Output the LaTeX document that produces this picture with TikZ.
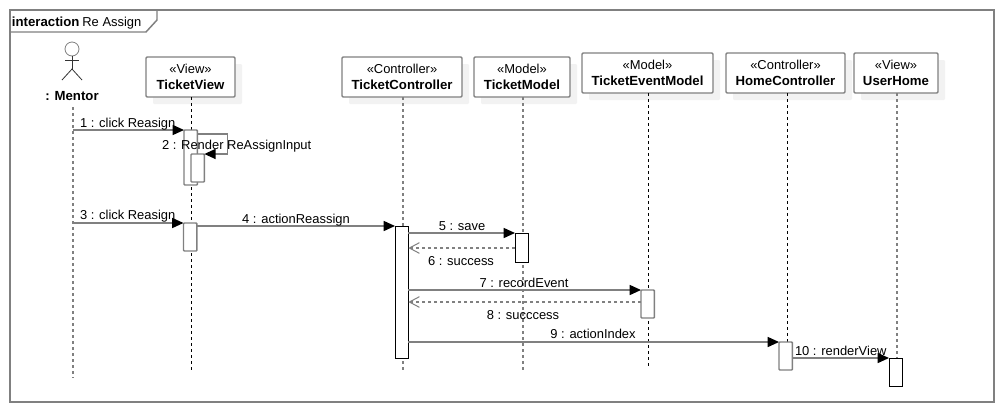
\documentclass[tikz,border=0pt]{standalone}
\usepackage{fontspec}
\setmainfont{Liberation Sans}
\usetikzlibrary{arrows.meta,shadows}
\definecolor{umlgray}{HTML}{808080}
\definecolor{shadowgray}{HTML}{F2F2F2}
\newcommand{\umlbold}[1]{{\fontsize{9.9}{11.5}\selectfont\bfseries #1}}
\tikzset{
  frameline/.style={draw=umlgray,line width=1.1pt},
  objbox/.style={draw=umlgray,fill=white,line width=1.1pt,rounded corners=0.8pt,align=center,inner sep=0pt,outer sep=0pt,minimum height=30pt,font=\fontsize{9.7}{11.5}\selectfont,general shadow={fill=shadowgray,shadow xshift=5.25pt,shadow yshift=-5.25pt}},
  lifeG/.style={draw=umlgray,line width=1.1pt,dash pattern=on 2.25pt off 2.25pt},
  lifeK/.style={draw=black,line width=0.75pt,dash pattern=on 2.25pt off 2.25pt},
  actG/.style={draw=umlgray,fill=white,line width=1.1pt,rounded corners=0.6pt,inner sep=0pt,outer sep=0pt,anchor=north west,minimum width=10pt},
  actK/.style={draw=black,fill=white,line width=0.75pt,inner sep=0pt,outer sep=0pt,anchor=north west,minimum width=10pt},
  msg/.style={draw=umlgray,line width=1.1pt,-{Triangle[length=8.5pt,width=7.5pt,color=black]}},
  ret/.style={draw=umlgray,line width=1.1pt,dash pattern=on 2.25pt off 2.25pt,-{Straight Barb[length=7.5pt,width=8pt,line width=.75pt,color=umlgray]}},
  lbl/.style={font=\fontsize{9.7}{11}\selectfont,inner sep=0pt,outer sep=0pt,text height=7pt,text depth=0pt},
  actorline/.style={draw=black!80,line width=0.6pt}
}
\begin{document}
\begin{tikzpicture}[x=0.75pt,y=-0.75pt]
\useasboundingbox[fill=white] (0,0) rectangle (1004,412);
% frame
\coordinate (frameTL) at (10,10);
\coordinate (frameBR) at (994,402);
\draw[frameline] (frameTL) rectangle (frameBR);
\coordinate (tabA) at (10,32);
\coordinate (tabB) at (146,32);
\coordinate (tabC) at (157,20);
\coordinate (tabD) at (157,10);
\draw[frameline] (tabA) -- (tabB) -- (tabC) -- (tabD);
\node[lbl,anchor=west] (frameLabel) at (12,21.5) {\umlbold{interaction}\hspace{2.2pt}Re Assign};
% actor
\node[draw=umlgray,fill=white,circle,line width=0.6pt,minimum size=10.5pt,inner sep=0pt,outer sep=0pt] (mentorHead) at (72,49) {};
\coordinate (mentorHip) at (72,69);
\coordinate (mentorArmL) at (65,60.5);
\coordinate (mentorArmR) at (79,60.5);
\coordinate (mentorLegL) at (62,80);
\coordinate (mentorLegR) at (82,80);
\draw[actorline] (mentorHead) -- (mentorHip);
\draw[actorline] (mentorArmL) -- (mentorArmR);
\draw[actorline] (mentorLegL) -- (mentorHip) -- (mentorLegR);
\node[lbl] (mentorLabel) at (72,95.5) {\umlbold{: Mentor}};
% objects
\node[objbox,minimum width=66.75pt] (TV) at (190.5,77) {«View»\\\umlbold{TicketView}};
\node[objbox,minimum width=90pt] (TC) at (402,77) {«Controller»\\\umlbold{TicketController}};
\node[objbox,minimum width=72pt] (TM) at (522,77) {«Model»\\\umlbold{TicketModel}};
\node[objbox,minimum width=98.25pt] (TE) at (647.5,73) {«Model»\\\umlbold{TicketEventModel}};
\node[objbox,minimum width=89.25pt] (HC) at (785.5,73) {«Controller»\\\umlbold{HomeController}};
\node[objbox,minimum width=63pt] (UH) at (896,73) {«View»\\\umlbold{UserHome}};
% lifeline ends
\coordinate (mentorTop) at (73,107);
\coordinate (mentorEnd) at (73,378);
\coordinate (tvEnd) at (191.5,370);
\coordinate (tcEnd) at (403,371);
\coordinate (tmEnd) at (523,372);
\coordinate (teEnd) at (648.5,367);
\coordinate (hcEnd) at (787,342);
\coordinate (uhEnd) at (897,358);
\draw[lifeG] (mentorTop) -- (mentorEnd);
\draw[lifeK] (tvEnd |- TV.south) -- (tvEnd);
\draw[lifeG] (tcEnd |- TC.south) -- (tcEnd);
\draw[lifeG] (tmEnd |- TM.south) -- (tmEnd);
\draw[lifeK] (teEnd |- TE.south) -- (teEnd);
\draw[lifeK] (hcEnd |- HC.south) -- (hcEnd);
\draw[lifeG] (uhEnd |- UH.south) -- (uhEnd);
% activations
\node[actG,minimum height=41.25pt] (a1) at (184,130) {};
\node[actG,minimum height=21pt] (a2) at (191,154) {};
\node[actG,minimum height=21pt] (a3) at (183.5,223) {};
\node[actK,minimum height=99pt] (a4) at (395,226) {};
\node[actK,minimum height=21.75pt] (a5) at (515,233) {};
\node[actG,minimum height=21pt] (a6) at (641,290) {};
\node[actG,minimum height=21pt] (a7) at (779,342) {};
\node[actK,minimum height=21pt] (a8) at (889,358) {};
% messages
\coordinate (r6) at (515,248);
\coordinate (r8) at (641,302);
\draw[msg] (mentorEnd |- a1.north west) -- (a1.north west);
\draw[msg] ([yshift=-3pt]a1.north east) -- ++(30,0) |- (a2.north east);
\draw[msg] (mentorEnd |- a3.north west) -- (a3.north west);
\draw[msg] (a3.east |- a4.north west) -- (a4.north west);
\draw[msg] (a4.east |- a5.north west) -- (a5.north west);
\draw[ret] (a5.west |- r6) -- (a4.east |- r6);
\draw[msg] (a4.east |- a6.north west) -- (a6.north west);
\draw[ret] (a6.west |- r8) -- (a4.east |- r8);
\draw[msg] (a4.east |- a7.north west) -- (a7.north west);
\draw[msg] (a7.east |- a8.north west) -- (a8.north west);
% labels
\node[lbl,anchor=west] (l1) at (80,123) {1 : click Reasign};
\node[lbl,anchor=west] (l2) at (162,145) {2 : Render ReAssignInput};
\node[lbl,anchor=west] (l3) at (80,215) {3 : click Reasign};
\node[lbl] (l4) at (296,218.5) {4 : actionReassign};
\node[lbl] (l5) at (462,226) {5 : save};
\node[lbl] (l6) at (461,260.5) {6 : success};
\node[lbl] (l7) at (524,282.5) {7 : recordEvent};
\node[lbl] (l8) at (523,314.5) {8 : succcess};
\node[lbl] (l9) at (593,334) {9 : actionIndex};
\node[lbl,anchor=west] (l10) at (795,350.5) {10 : renderView};
\end{tikzpicture}
\end{document}
